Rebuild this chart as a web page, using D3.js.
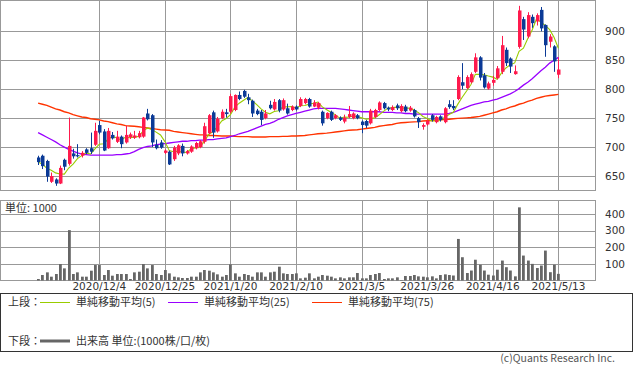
<!DOCTYPE html>
<html>
<head>
<meta charset="utf-8">
<script src="https://cdn.jsdelivr.net/npm/d3@7"></script>
<style>
  body { margin: 0; background: #fff; }
  svg text { fill: #333; }
</style>
</head>
<body>
<div id="chartDiv"></div>
<script>
// trading days shown
var dates = ["2020/11/13","2020/11/16","2020/11/17","2020/11/18","2020/11/19","2020/11/20","2020/11/24","2020/11/25","2020/11/26","2020/11/27",
  "2020/11/30","2020/12/1","2020/12/2","2020/12/3","2020/12/4","2020/12/7","2020/12/8","2020/12/9","2020/12/10","2020/12/11",
  "2020/12/14","2020/12/15","2020/12/16","2020/12/17","2020/12/18","2020/12/21","2020/12/22","2020/12/23","2020/12/24","2020/12/25",
  "2020/12/28","2020/12/29","2020/12/30","2021/1/4","2021/1/5","2021/1/6","2021/1/7","2021/1/8","2021/1/12","2021/1/13",
  "2021/1/14","2021/1/15","2021/1/18","2021/1/19","2021/1/20","2021/1/21","2021/1/22","2021/1/25","2021/1/26","2021/1/27",
  "2021/1/28","2021/1/29","2021/2/1","2021/2/2","2021/2/3","2021/2/4","2021/2/5","2021/2/8","2021/2/9","2021/2/10",
  "2021/2/12","2021/2/15","2021/2/16","2021/2/17","2021/2/18","2021/2/19","2021/2/22","2021/2/24","2021/2/25","2021/2/26",
  "2021/3/1","2021/3/2","2021/3/3","2021/3/4","2021/3/5","2021/3/8","2021/3/9","2021/3/10","2021/3/11","2021/3/12",
  "2021/3/15","2021/3/16","2021/3/17","2021/3/18","2021/3/19","2021/3/22","2021/3/23","2021/3/24","2021/3/25","2021/3/26",
  "2021/3/29","2021/3/30","2021/3/31","2021/4/1","2021/4/2","2021/4/5","2021/4/6","2021/4/7","2021/4/8","2021/4/9",
  "2021/4/12","2021/4/13","2021/4/14","2021/4/15","2021/4/16","2021/4/19","2021/4/20","2021/4/21","2021/4/22","2021/4/23",
  "2021/4/26","2021/4/27","2021/4/28","2021/4/30","2021/5/6","2021/5/7","2021/5/10","2021/5/11","2021/5/12","2021/5/13"];

var opens = [682,685,676,640,644,637,678,671,689,686, 685,696,698,704,738,727,698,721,709,718,
  708,717,716,717,718,758,755,704,708,690, 692,679,689,702,689,692,698,700,709,724,
  760,727,750,760,761,764,790,797,786,780, 763,761,750,773,765,781,765,767,764,770,
  771,776,783,770,768,761,750,761,750,751, 744,752,750,755,744,745,741,752,764,776,
  768,764,772,762,770,763,764,750,735,739, 755,743,753,743,774,771,783,812,802,812,
  830,855,824,801,811,819,830,868,853,826, 873,921,891,925,917,937,911,882,874,825];
var highs = [685,687,678,656,646,668,680,751,697,705, 693,698,725,742,745,731,733,726,728,720,
  737,725,728,728,752,766,757,713,712,696, 694,702,705,706,695,703,709,712,742,757,
  763,752,765,766,792,791,796,799,792,782, 766,764,764,780,783,783,784,775,772,772,
  786,785,785,781,778,763,760,763,757,753, 756,771,760,757,746,747,766,766,779,778,
  770,772,775,774,773,771,766,752,741,748, 757,754,755,769,781,781,824,845,824,829,
  862,857,828,813,823,840,892,872,855,841, 944,925,933,929,931,942,912,895,876,855];
var lows = [669,662,640,638,633,636,660,668,680,682, 682,688,688,702,722,693,697,713,707,698,
  706,714,714,715,716,746,700,696,697,688, 669,676,686,684,687,690,696,698,706,722,
  716,725,748,751,758,762,781,785,774,752, 755,738,748,765,763,760,763,756,762,763,
  769,774,768,769,765,737,748,745,748,745, 741,750,748,748,724,733,739,750,762,765,
  762,762,764,760,760,761,751,733,730,737, 744,741,744,741,766,764,781,800,800,810,
  828,815,801,799,806,817,826,840,828,825, 870,885,888,906,910,900,856,872,830,819];
var closes = [674,667,649,650,637,664,666,702,684,684, 690,690,692,728,725,694,728,715,718,705,
  721,722,720,724,751,748,708,698,699,694, 670,699,703,689,693,701,707,710,736,755,
  725,749,761,757,788,790,783,787,781,758, 757,747,758,767,778,763,781,758,770,765,
  783,783,770,777,776,741,759,747,755,747, 751,757,758,750,738,737,763,764,777,767,
  765,769,767,771,762,768,753,743,738,745, 747,752,747,767,769,767,821,806,821,826,
  855,820,803,810,816,836,876,845,839,831, 936,903,928,914,928,905,876,891,848,834];
// 出来高 (1000株)
var volumes = [9,33,49,23,39,99,73,303,39,49, 23,23,59,93,93,33,63,29,39,39,
  39,9,49,53,99,73,93,39,33,63, 43,23,19,15,15,23,23,49,63,59,
  49,37,23,33,97,43,23,39,33,23, 49,49,23,49,53,83,43,39,39,43,
  13,17,43,13,23,33,29,23,13,19, 13,19,19,45,13,13,33,39,45,9,
  13,13,19,3,27,27,33,25,23,19, 25,13,33,37,33,30,250,140,45,60,
  125,95,60,35,30,65,120,80,60,25, 440,150,120,100,75,90,180,50,95,40];
// 25日 / 75日 移動平均 (include days before the window)
var ma25 = [725,721,717,713,709,704,700,696,693,690, 688,687,686,686,686,686,686,686,687,687,
  688,689,692,696,699,701,702,704,705,706, 707,708,709,710,710,711,711,712,712,713,
  713,714,715,716,718,720,723,725,727,730, 733,736,739,741,744,748,751,754,756,758,
  760,762,764,766,767,767,767,767,767,766, 765,764,763,762,761,761,761,761,761,760,
  760,760,759,759,758,758,757,757,757,757, 757,757,757,757,758,760,763,766,769,772,
  774,776,778,779,781,783,786,789,792,796, 801,807,812,818,825,832,838,845,850,855];
var ma75 = [776,774,772,769,766,764,761,759,756,754, 752,751,749,748,747,745,744,742,740,739,
  737,736.5,736,735,734,733,732,731,730,729.5, 729,727,726,725,724,723,722,721,721,720,
  720,719.5,719,719,719,718.5,718,718,718,717.5, 717.5,717.5,717.5,718,718,718,718.5,718.5,719,719,
  719.5,720,721,722,723,723.5,724,725,726,727, 728,729,729.5,730,731,732,733,734,736,737,
  738,739,741,742,742.5,743,743.5,744,745,745.5, 746,746.5,747,747.5,748,749,749.5,750,750.5,751,
  752,753,755,757,759,761,764,766,769,771, 774,776,779,781,784,786,788,789,790,791];

var priceTicks = [650, 700, 750, 800, 850, 900];
var volTicks = [100, 200, 300, 400];
var tickLabels = ["2020/12/4","2020/12/25","2021/1/20","2021/2/10","2021/3/5","2021/3/26","2021/4/16","2021/5/13"];

var legendItems = [
  {label: "単純移動平均(5)", color: "#99cc00"},
  {label: "単純移動平均(25)", color: "#9900ff"},
  {label: "単純移動平均(75)", color: "#ff3300"}
];

var upColor = "#ff1a4d", downColor = "#0b3a96", gridColor = "#999";
var width = 633, height = 372;
var panel = {left: 0.5, right: 595.5, top: 0.5, bottom: 190.5};
var vPanel = {left: 0.5, right: 595.5, top: 200.5, bottom: 280.5};

var data = dates.map(function(d, i){
  return {date: d, open: opens[i], high: highs[i], low: lows[i], close: closes[i], volume: volumes[i]}
});

var x = d3.scalePoint().domain(dates).range([38.1, 558.4]);
var y = d3.scaleLinear().domain([650, 900]).range([176, 31.3]);
var yv = d3.scaleLinear().domain([0, 400]).range([280.5, 214]);

var svg = d3.select("#chartDiv").append("svg")
  .attr("width", width).attr("height", height)
  .style("font-family", "'DejaVu Sans', sans-serif");

svg.append("clipPath").attr("id", "priceClip").append("rect")
  .attr("x", panel.left).attr("y", panel.top)
  .attr("width", panel.right - panel.left).attr("height", panel.bottom - panel.top);

// grid + frames
function drawGrid(p, ticks, scale){
  var g = svg.append("g").attr("class", "grid")
  g.selectAll(".hline").data(ticks).enter().append("line")
    .attr("x1", p.left).attr("x2", p.right)
    .attr("y1", function(d){ return Math.round(scale(d)) + 0.5 })
    .attr("y2", function(d){ return Math.round(scale(d)) + 0.5 })
    .style("stroke", gridColor)
  g.selectAll(".vline").data(tickLabels).enter().append("line")
    .attr("y1", p.top).attr("y2", p.bottom)
    .attr("x1", function(d){ return Math.round(x(d)) + 0.5 })
    .attr("x2", function(d){ return Math.round(x(d)) + 0.5 })
    .style("stroke", gridColor)
  g.append("rect").attr("x", p.left).attr("y", p.top)
    .attr("width", p.right - p.left).attr("height", p.bottom - p.top)
    .style("fill", "none").style("stroke", gridColor)
  g.selectAll(".ylab").data(ticks).enter().append("text")
    .attr("x", 605).attr("y", function(d){ return scale(d) })
    .attr("dy", "0.36em")
    .style("font-size", "10.5px")
    .text(function(d){ return d })
}
drawGrid(panel, priceTicks, y);
drawGrid(vPanel, volTicks, yv);

// moving averages
var ma5 = closes.map(function(c, i){
  return d3.mean(closes.slice(Math.max(0, i - 4), i + 1))
});
var maGroup = svg.append("g").attr("clip-path", "url(#priceClip)");
[[ma75, "#ff3300", 1.4], [ma25, "#9900ff", 1.3], [ma5, "#99cc00", 1.1]].forEach(function(m){
  var line = d3.line()
    .x(function(d, i){ return x(dates[i]) })
    .y(function(d){ return y(d) })
  maGroup.append("path").datum(m[0]).attr("d", line)
    .style("fill", "none").style("stroke", m[1]).style("stroke-width", m[2])
})

// candles
var candle = svg.append("g").attr("clip-path", "url(#priceClip)")
  .selectAll(".candle").data(data).enter().append("g").attr("class", "candle")
candle.append("line")
  .attr("x1", function(d){ return Math.round(x(d.date)) + 0.5 })
  .attr("x2", function(d){ return Math.round(x(d.date)) + 0.5 })
  .attr("y1", function(d){ return y(d.high) })
  .attr("y2", function(d){ return y(d.low) })
  .style("stroke", function(d){ return d.close >= d.open ? upColor : downColor })
candle.append("rect")
  .attr("x", function(d){ return Math.round(x(d.date)) - 1 })
  .attr("width", 3.5)
  .attr("y", function(d){ return y(Math.max(d.open, d.close)) })
  .attr("height", function(d){ return Math.max(1, Math.abs(y(d.open) - y(d.close))) })
  .style("fill", function(d){ return d.close >= d.open ? upColor : downColor })

// volume bars
svg.append("g").selectAll(".vol").data(data).enter().append("rect")
  .attr("class", "vol")
  .attr("x", function(d){ return Math.round(x(d.date)) - 1 })
  .attr("width", 2.8)
  .attr("y", function(d){ return yv(d.volume) })
  .attr("height", function(d){ return yv(0) - yv(d.volume) })
  .style("fill", "#666")

svg.append("text").attr("x", 5).attr("y", 212)
  .style("font-family", "'Noto Sans CJK JP', sans-serif").style("font-size", "11px")
  .text("単位: 1000")

// date labels
svg.append("g").selectAll(".xlab").data(tickLabels).enter().append("text")
  .attr("x", function(d){ return x(d) }).attr("y", 290)
  .attr("text-anchor", "middle")
  .style("font-size", "10.5px")
  .text(function(d){ return d })

// legend box
var leg = svg.append("g").style("font-family", "'Noto Sans CJK JP', sans-serif").style("font-size", "11px")
leg.append("rect").attr("x", 0.5).attr("y", 293.5).attr("width", 632).attr("height", 58)
  .style("fill", "none").style("stroke", "#333")
leg.append("text").attr("x", 8).attr("y", 306).text("上段：")
var legX = [40, 168, 312];
legendItems.forEach(function(d, i){
  leg.append("line").attr("x1", legX[i]).attr("x2", legX[i] + 30).attr("y1", 302.5).attr("y2", 302.5)
    .style("stroke", d.color)
  leg.append("text").attr("x", legX[i] + 36).attr("y", 306).text(d.label)
})
leg.append("text").attr("x", 8).attr("y", 345).text("下段：")
leg.append("line").attr("x1", 40).attr("x2", 70).attr("y1", 341).attr("y2", 341)
  .style("stroke", "#666").style("stroke-width", 3)
leg.append("text").attr("x", 76).attr("y", 345).text("出来高 単位:(1000株/口/枚)")

svg.append("text").attr("x", 615).attr("y", 362).attr("text-anchor", "end")
  .style("font-family", "'Noto Sans CJK JP', sans-serif").style("font-size", "10.5px")
  .style("fill", "#555")
  .text("(c)Quants Research Inc.")
</script>
</body>
</html>
